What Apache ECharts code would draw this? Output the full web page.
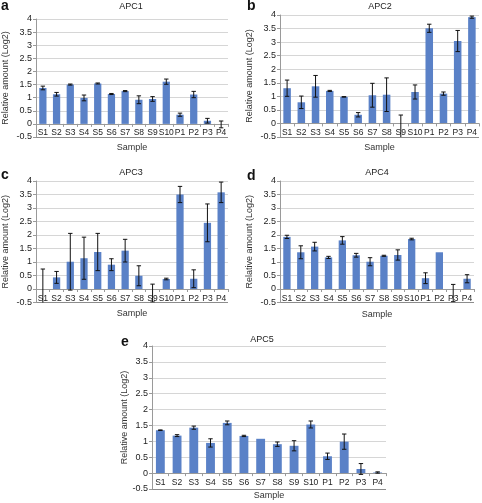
<!DOCTYPE html>
<html>
<head>
<meta charset="utf-8">
<script src="https://cdn.jsdelivr.net/npm/echarts@6/dist/echarts.min.js"></script>
<style>
html,body{margin:0;padding:0;background:#fff;}
#c{width:482px;height:503px;}
</style>
</head>
<body>
<div id="c"></div>
<script>
const categories = ['S1','S2','S3','S4','S5','S6','S7','S8','S9','S10','P1','P2','P3','P4'];
const yTicks = [-0.5, 0, 0.5, 1, 1.5, 2, 2.5, 3, 3.5, 4];
const panelTitles = ['APC1','APC2','APC3','APC4','APC5'];
const panelLetters = ['a','b','c','d','e'];

const apc1 = [1.37, 1.13, 1.50, 0.99, 1.54, 1.14, 1.25, 0.92, 0.95, 1.61, 0.35, 1.12, 0.12, -0.02];
const apc1Err = [0.07, 0.07, 0.02, 0.11, 0.02, 0.02, 0.02, 0.15, 0.09, 0.10, 0.06, 0.12, 0.09, 0.13];

const apc2 = [1.30, 0.78, 1.37, 1.20, 0.98, 0.32, 1.04, 1.06, -0.15, 1.16, 3.51, 1.10, 3.04, 3.92];
const apc2Err = [0.30, 0.23, 0.40, 0.02, 0.01, 0.08, 0.44, 0.62, 0.46, 0.26, 0.15, 0.06, 0.39, 0.04];

const apc3 = [-0.01, 0.43, 1.01, 1.14, 1.37, 0.90, 1.42, 0.49, -0.15, 0.37, 3.50, 0.38, 2.45, 3.58];
const apc3Err = [0.75, 0.22, 1.05, 0.78, 0.69, 0.22, 0.42, 0.37, 0.33, 0.03, 0.30, 0.33, 0.70, 0.38];

const apc4 = [1.93, 1.36, 1.57, 1.17, 1.80, 1.25, 1.01, 1.23, 1.26, 1.85, 0.40, 1.36, -0.15, 0.38];
const apc4Err = [0.06, 0.24, 0.16, 0.04, 0.14, 0.07, 0.15, 0.02, 0.19, 0.03, 0.20, 0, 0.32, 0.15];

const apc5 = [1.35, 1.18, 1.43, 0.95, 1.58, 1.17, 1.08, 0.91, 0.86, 1.53, 0.53, 0.99, 0.13, 0.02];
const apc5Err = [0.01, 0.03, 0.05, 0.13, 0.06, 0.02, 0, 0.07, 0.16, 0.11, 0.10, 0.24, 0.17, 0.02];

const values = [apc1, apc2, apc3, apc4, apc5];
const errors = [apc1Err, apc2Err, apc3Err, apc4Err, apc5Err];

const grids = [
  {left: 35, top: 19, width: 193, height: 118},
  {left: 280, top: 15, width: 199, height: 122},
  {left: 35, top: 181, width: 193, height: 121.5},
  {left: 280, top: 181, width: 194, height: 121.5},
  {left: 152, top: 346, width: 234, height: 143}
];
const titlePos = [[131, 7], [380, 7], [131, 173], [377, 173], [262, 340]];
const letterPos = [[1, 7], [247, 7], [1, 176], [247, 177], [121, 343]];
const yNameGap = [26, 26, 26, 26, 18];
const xLabelMargin = [-8.5, -8.5, -8.5, -8.5, -10.5];
const xNameGap = [6, 6, 7, 8, 2];

const FONT = 'Liberation Sans, Arial, sans-serif';
const BAR = '#5a81c7';

const splitColors = ['#8c8c8c','#d6d6d6','#d6d6d6','#d6d6d6','#d6d6d6','#d6d6d6','#d6d6d6','#d6d6d6','#d6d6d6','#d6d6d6'];

const option = {
  animation: false,
  backgroundColor: '#fff',
  grid: grids.map(g => Object.assign({containLabel: false}, g)),
  xAxis: grids.map((g, i) => ({
    type: 'category', gridIndex: i, data: categories, z: 5,
    name: 'Sample', nameLocation: 'middle', nameGap: xNameGap[i],
    nameTextStyle: {fontFamily: FONT, fontSize: 9, color: '#333'},
    axisLine: {onZero: true, lineStyle: {color: '#9a9a9a', width: 1}},
    axisTick: {show: true, length: 3, lineStyle: {color: '#9a9a9a'}},
    axisLabel: {interval: 0, margin: xLabelMargin[i], fontFamily: FONT, fontSize: 8.5, color: '#222'}
  })),
  yAxis: grids.map((g, i) => ({
    type: 'value', gridIndex: i, min: yTicks[0], max: yTicks[yTicks.length - 1], interval: 0.5,
    name: 'Relative amount (Log2)', nameLocation: 'middle', nameGap: yNameGap[i],
    nameTextStyle: {fontFamily: FONT, fontSize: 9, color: '#333'},
    axisLine: {show: true, lineStyle: {color: '#9a9a9a'}},
    axisTick: {show: true, length: 3, lineStyle: {color: '#9a9a9a'}},
    axisLabel: {margin: 4, fontFamily: FONT, fontSize: 9, color: '#222'},
    splitLine: {show: true, lineStyle: {color: splitColors, width: 1}}
  })),
  title: panelTitles.map((t, i) => ({
    text: t, left: titlePos[i][0], top: titlePos[i][1] - 5, textAlign: 'center', padding: 0,
    textStyle: {fontFamily: FONT, fontSize: 9, fontWeight: 'normal', color: '#222'}
  })),
  graphic: panelLetters.map((l, i) => ({
    type: 'text', left: letterPos[i][0], top: letterPos[i][1] - 8,
    style: {text: l, fontFamily: FONT, fontSize: 14, fontWeight: 'bold', fill: '#111'}
  })),
  series: []
};

values.forEach((vals, i) => {
  option.series.push({
    type: 'bar', xAxisIndex: i, yAxisIndex: i, data: vals, barWidth: '53%', z: 2,
    itemStyle: {color: p => (p.value < 0 ? '#ffffff' : BAR)}
  });
  option.series.push({
    type: 'custom', xAxisIndex: i, yAxisIndex: i, z: 10, clip: true,
    data: vals.map((v, k) => [k, v, errors[i][k]]),
    encode: {x: 0, y: 1},
    renderItem: (params, api) => {
      const k = api.value(0), v = api.value(1), e = api.value(2);
      if (!e) return null;
      const top = api.coord([k, v + e]);
      const bot = api.coord([k, v - e]);
      const hw = 2.2;
      const st = {stroke: '#111', lineWidth: 1};
      return {type: 'group', children: [
        {type: 'line', shape: {x1: top[0], y1: top[1], x2: bot[0], y2: bot[1]}, style: st},
        {type: 'line', shape: {x1: top[0] - hw, y1: top[1], x2: top[0] + hw, y2: top[1]}, style: st},
        {type: 'line', shape: {x1: bot[0] - hw, y1: bot[1], x2: bot[0] + hw, y2: bot[1]}, style: st}
      ]};
    }
  });
});

const chart = echarts.init(document.getElementById('c'), null, {renderer: 'canvas'});
chart.setOption(option);
</script>
</body>
</html>
